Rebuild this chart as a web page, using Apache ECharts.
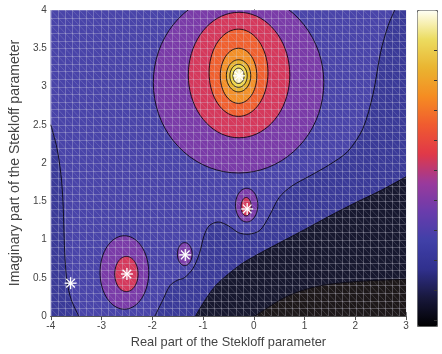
<!DOCTYPE html>
<html>
<head>
<meta charset="utf-8">
<script src="https://cdn.jsdelivr.net/npm/echarts@6/dist/echarts.min.js"></script>
<style>
  html, body { margin: 0; padding: 0; background: #ffffff; }
  #chart { width: 442px; height: 354px; }
</style>
</head>
<body>
<div id="chart"></div>
<script>
// Axis ranges and tick values (Stekloff parameter plane)
const X0 = -4, X1 = 3, Y0 = 0, Y1 = 4;
const xTicks = [-4, -3, -2, -1, 0, 1, 2, 3];
const yTicks = [0, 0.5, 1, 1.5, 2, 2.5, 3, 3.5, 4];

// Fill colour of each contour level, lowest to highest
const levelColors = ['#1d1819', '#17182f', '#3a3a98', '#4944a9', '#7a3ba8', '#d5395c',
                     '#f0602f', '#f39028', '#e9b42d', '#f1d84b', '#fbf1b4', '#ffffff'];
// Colour bar stops, bottom to top
const barColors = ['#000000', '#18183c', '#30308e', '#4040a8', '#6a3cac', '#9a3a9c',
                   '#e03848', '#f05a30', '#f58c22', '#eab430', '#ecdc60', '#fffff4'];
// Colour bar tick positions as fractions of its height
const barTicks = [0.02, 0.115, 0.21, 0.305, 0.4, 0.495, 0.59, 0.685, 0.78, 0.875];

// Open contour curves, [re, im]
const leftLine = [[-4, 2.5], [-3.88, 2.2], [-3.8, 1.85], [-3.76, 1.5], [-3.74, 1.1],
                  [-3.72, 0.75], [-3.68, 0.45], [-3.6, 0.22], [-3.45, 0]];
const wavyLine = [[-1.95, 0], [-1.8, 0.2], [-1.65, 0.4], [-1.5, 0.47], [-1.37, 0.5],
                  [-1.2, 0.62], [-1.07, 0.82], [-0.98, 1.05], [-0.88, 1.18], [-0.7, 1.23],
                  [-0.5, 1.18], [-0.3, 1.09], [-0.1, 1.07], [0.12, 1.12], [0.3, 1.3],
                  [0.5, 1.55], [0.75, 1.7], [1.1, 1.83], [1.47, 1.97], [1.85, 2.15],
                  [2.15, 2.45], [2.35, 2.9], [2.5, 3.45], [2.65, 3.8], [2.78, 4]];
const navyLine = [[-1.15, 0], [-0.95, 0.22], [-0.75, 0.4], [-0.5, 0.55], [-0.2, 0.7],
                  [0.2, 0.85], [0.6, 0.99], [1.0, 1.13], [1.5, 1.31], [2.0, 1.48],
                  [2.5, 1.64], [3, 1.82]];
const cornerLine = [[0.02, 0], [0.3, 0.12], [0.6, 0.24], [0.89, 0.32], [1.2, 0.38],
                    [1.53, 0.42], [2.0, 0.45], [2.5, 0.47], [3, 0.48]];

// Closed contours around the poles: [centre re, centre im, half-width, half-height, level]
const rings = [
  [-0.30, 3.05, 1.68, 1.18, 4],
  [-0.29, 3.15, 1.00, 0.82, 5],
  [-0.30, 3.18, 0.58, 0.57, 6],
  [-0.30, 3.14, 0.36, 0.36, 7],
  [-0.30, 3.14, 0.24, 0.21, 8],
  [-0.30, 3.14, 0.17, 0.15, 9],
  [-0.30, 3.14, 0.11, 0.10, 10],
  [-2.55, 0.57, 0.48, 0.48, 4],
  [-2.51, 0.55, 0.23, 0.23, 5],
  [-1.36, 0.81, 0.145, 0.15, 4],
  [-0.14, 1.45, 0.22, 0.22, 4],
  [-0.15, 1.43, 0.10, 0.12, 5]
];

// Computed Stekloff eigenvalues
const poles = [[-3.61, 0.43], [-2.5, 0.55], [-1.35, 0.8], [-0.13, 1.4], [-0.29, 3.14]];

// Mesh resolution of the underlying triangulation
const meshNx = 50, meshNy = 40;

// Filled bands built from the curves above
const bands = [
  { level: 2, outline: [[X0, Y0], [X1, Y0], [X1, Y1], [X0, Y1]] },
  { level: 3, outline: leftLine.concat(wavyLine, [[X0, Y1]]) },
  { level: 1, outline: navyLine.concat([[X1, Y0]]) },
  { level: 0, outline: cornerLine.concat([[X1, Y0]]) }
];
const contourLines = [leftLine, wavyLine, navyLine, cornerLine];

const LINE_COLOR = 'rgba(12,10,20,0.9)';
const FONT = 'Liberation Sans, Arial, sans-serif';
const TEXT_COLOR = '#444444';

// Colour bar box (pixels)
const BAR = { left: 417, top: 10, width: 20, height: 316 };

function ellipsePoints(r, api) {
  const pts = [];
  for (let k = 0; k < 72; k++) {
    const t = k / 72 * Math.PI * 2;
    pts.push(api.coord([r[0] + r[2] * Math.cos(t), r[1] + r[3] * Math.sin(t)]));
  }
  return pts;
}

const chart = echarts.init(document.getElementById('chart'), null, { renderer: 'canvas' });

const axisLineStyle = { color: '#555', width: 1 };
const tickLabel = { color: TEXT_COLOR, fontSize: 10, fontFamily: FONT };

chart.setOption({
  animation: false,
  backgroundColor: '#ffffff',
  grid: { left: 44, right: 36, top: 10, bottom: 29, containLabel: false },
  xAxis: [{
    type: 'value', min: X0, max: X1, interval: 1,
    name: 'Real part of the Stekloff parameter', nameLocation: 'middle', nameGap: 18,
    nameTextStyle: { color: TEXT_COLOR, fontSize: 12.8, fontFamily: FONT },
    axisLine: { show: true, lineStyle: axisLineStyle },
    axisTick: { show: true, inside: true, length: 4, lineStyle: axisLineStyle },
    axisLabel: Object.assign({ margin: 5, formatter: v => xTicks.includes(v) ? String(v) : '' }, tickLabel),
    splitLine: { show: false }
  }, {
    type: 'value', min: X0, max: X1, interval: 1, position: 'top',
    axisLine: { show: true, lineStyle: axisLineStyle },
    axisTick: { show: true, inside: true, length: 4, lineStyle: axisLineStyle },
    axisLabel: { show: false }, splitLine: { show: false }
  }],
  yAxis: [{
    type: 'value', min: Y0, max: Y1, interval: 0.5,
    name: 'Imaginary part of the Stekloff parameter', nameLocation: 'middle', nameGap: 24,
    nameTextStyle: { color: TEXT_COLOR, fontSize: 14, fontFamily: FONT },
    axisLine: { show: true, lineStyle: axisLineStyle },
    axisTick: { show: true, inside: true, length: 4, lineStyle: axisLineStyle },
    axisLabel: Object.assign({ margin: 4, formatter: v => yTicks.includes(v) ? String(v) : '' }, tickLabel),
    splitLine: { show: false }
  }, {
    type: 'value', min: Y0, max: Y1, interval: 0.5, position: 'right',
    axisLine: { show: true, lineStyle: axisLineStyle },
    axisTick: { show: true, inside: true, length: 4, lineStyle: axisLineStyle },
    axisLabel: { show: false }, splitLine: { show: false }
  }],
  visualMap: {
    type: 'continuous', min: 0, max: 1, calculable: false, orient: 'vertical',
    left: BAR.left, top: BAR.top, itemWidth: BAR.width, itemHeight: BAR.height, padding: 0,
    borderColor: '#666', borderWidth: 1, seriesIndex: 0, dimension: 1,
    inRange: { color: barColors }
  },
  graphic: barTicks.map(f => ({
    type: 'line', silent: true, z: 100,
    shape: {
      x1: BAR.left + BAR.width - 3, x2: BAR.left + BAR.width,
      y1: Math.round(BAR.top + BAR.height * (1 - f)) + 0.5,
      y2: Math.round(BAR.top + BAR.height * (1 - f)) + 0.5
    },
    style: { stroke: '#333', lineWidth: 1 }
  })),
  series: [
    {
      // filled level bands
      type: 'custom', clip: true, z: 1,
      data: bands.map((b, i) => [i, 0]),
      renderItem: (params, api) => {
        const b = bands[params.dataIndex];
        return {
          type: 'polygon',
          shape: { points: b.outline.map(p => api.coord(p)) },
          style: { fill: levelColors[b.level], stroke: null }
        };
      }
    },
    {
      // filled closed contours around each pole
      type: 'custom', clip: true, z: 2,
      data: rings.map((r, i) => [i, 0]),
      renderItem: (params, api) => ({
        type: 'polygon',
        shape: { points: ellipsePoints(rings[params.dataIndex], api) },
        style: { fill: levelColors[rings[params.dataIndex][4]], stroke: null }
      })
    },
    {
      // triangulation mesh drawn over the field
      type: 'custom', clip: true, z: 3, silent: true,
      data: [[0, 0]],
      renderItem: (params, api) => {
        const children = [];
        const dx = (X1 - X0) / meshNx, dy = (Y1 - Y0) / meshNy;
        const grid = 'rgba(215,215,230,0.3)';
        const diag = 'rgba(215,215,230,0.18)';
        for (let i = 0; i <= meshNx; i++) {
          const a = api.coord([X0 + i * dx, Y0]), b = api.coord([X0 + i * dx, Y1]);
          const x = Math.round(a[0]) + 0.5;
          children.push({ type: 'line', shape: { x1: x, y1: a[1], x2: x, y2: b[1] }, style: { stroke: grid, lineWidth: 1 } });
        }
        for (let j = 0; j <= meshNy; j++) {
          const a = api.coord([X0, Y0 + j * dy]), b = api.coord([X1, Y0 + j * dy]);
          const y = Math.round(a[1]) + 0.5;
          children.push({ type: 'line', shape: { x1: a[0], y1: y, x2: b[0], y2: y }, style: { stroke: grid, lineWidth: 1 } });
        }
        for (let i = 0; i < meshNx; i++) {
          for (let j = 0; j < meshNy; j++) {
            const a = api.coord([X0 + i * dx, Y0 + (j + 1) * dy]);
            const b = api.coord([X0 + (i + 1) * dx, Y0 + j * dy]);
            children.push({ type: 'line', shape: { x1: a[0], y1: a[1], x2: b[0], y2: b[1] }, style: { stroke: diag, lineWidth: 1 } });
          }
        }
        return { type: 'group', children };
      }
    },
    {
      // outlines of the closed contours
      type: 'custom', clip: true, z: 4,
      data: rings.map((r, i) => [i, 0]),
      renderItem: (params, api) => ({
        type: 'polygon',
        shape: { points: ellipsePoints(rings[params.dataIndex], api) },
        style: { fill: null, stroke: LINE_COLOR, lineWidth: 1 }
      })
    },
    {
      // open contour lines
      type: 'custom', clip: true, z: 4,
      data: contourLines.map((c, i) => [i, 0]),
      renderItem: (params, api) => ({
        type: 'polyline',
        shape: { points: contourLines[params.dataIndex].map(p => api.coord(p)), smooth: 0.3 },
        style: { stroke: LINE_COLOR, lineWidth: 1, fill: null }
      })
    },
    {
      // eigenvalue markers
      type: 'custom', z: 5,
      data: poles,
      renderItem: (params, api) => {
        const c = api.coord([api.value(0), api.value(1)]);
        const r = 6, d = r * 0.72;
        const seg = (x1, y1, x2, y2) => ({
          type: 'line', shape: { x1: c[0] + x1, y1: c[1] + y1, x2: c[0] + x2, y2: c[1] + y2 },
          style: { stroke: '#ffffff', lineWidth: 1.3 }
        });
        return { type: 'group', children: [seg(-r, 0, r, 0), seg(0, -r, 0, r), seg(-d, -d, d, d), seg(-d, d, d, -d)] };
      }
    }
  ]
});
</script>
</body>
</html>
